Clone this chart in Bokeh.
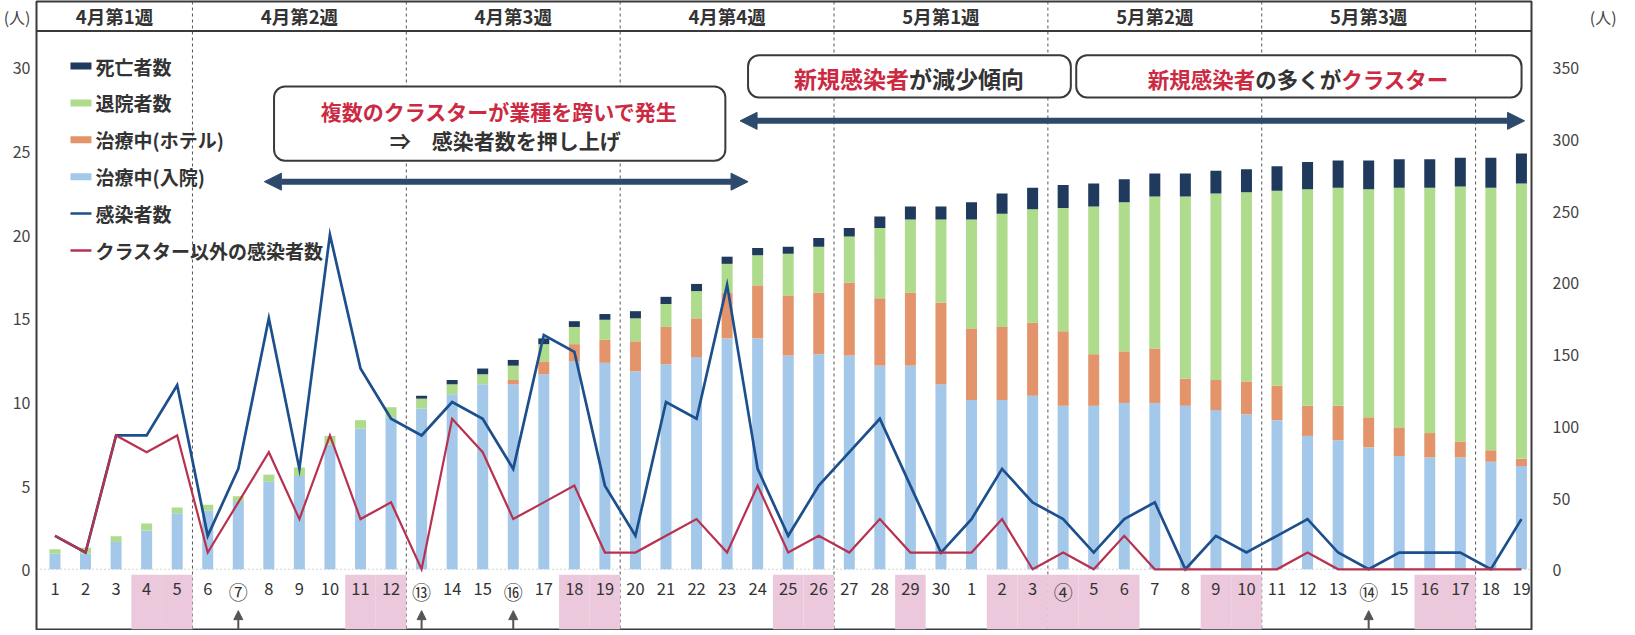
from bokeh.plotting import figure
from bokeh.models import (Range1d, LinearAxis, FixedTicker, Span, BoxAnnotation,
                          Arrow, NormalHead, Label, ColumnDataSource)
from bokeh.core.properties import value
from bokeh.embed import file_html
from bokeh.resources import INLINE

FONT = "Noto Sans CJK JP"

# ---------------- data ----------------
day_labels = ["1", "2", "3", "4", "5", "6", "⑦", "8", "9", "10",
              "11", "12", "⑬", "14", "15", "⑯", "17", "18", "19", "20",
              "21", "22", "23", "24", "25", "26", "27", "28", "29", "30",
              "1", "2", "3", "④", "5", "6", "7", "8", "9", "10",
              "11", "12", "13", "⑭", "15", "16", "17", "18", "19"]

# 治療中(入院)
hospital = [11, 11, 19, 27, 39, 41, 47, 61, 65, 87,
            98, 106, 112, 122, 129, 129, 136, 145, 144, 138,
            143, 148, 161, 161, 149, 150, 149, 142, 142, 129,
            118, 118, 121, 114, 114, 116, 116, 114, 111, 108,
            104, 93, 90, 85, 79, 78, 78, 75, 72]
# 治療中(ホテル)
hotel = [0, 0, 0, 0, 0, 0, 0, 0, 0, 0,
         0, 0, 0, 0, 0, 3, 9, 12, 16, 21,
         26, 27, 32, 37, 42, 43, 51, 47, 51, 57,
         50, 51, 51, 52, 36, 36, 38, 19, 21, 23,
         24, 21, 24, 21, 20, 17, 11, 8, 5]
# 退院者数
discharged = [3, 4, 4, 5, 4, 4, 4, 5, 6, 6,
              6, 7, 7, 7, 7, 10, 12, 12, 14, 16,
              16, 19, 20, 21, 29, 32, 32, 49, 51, 58,
              76, 79, 79, 86, 103, 104, 106, 127, 130, 132,
              136, 151, 152, 159, 167, 171, 178, 183, 192]
# 死亡者数
deaths = [0, 0, 0, 0, 0, 0, 0, 0, 0, 0,
          0, 0, 2, 3, 4, 4, 4, 4, 4, 5,
          5, 5, 5, 5, 5, 6, 6, 8, 9, 9,
          12, 14, 15, 16, 16, 16, 16, 16, 16, 16,
          17, 19, 19, 20, 20, 20, 20, 21, 21]
# 感染者数
infected = [2, 1, 8, 8, 11, 2, 6, 15, 6, 20,
            12, 9, 8, 10, 9, 6, 14, 13, 5, 2,
            10, 9, 17, 6, 2, 5, 7, 9, 5, 1,
            3, 6, 4, 3, 1, 3, 4, 0, 2, 1,
            2, 3, 1, 0, 1, 1, 1, 0, 3]
# クラスター以外の感染者数
non_cluster = [2, 1, 8, 7, 8, 1, 4, 7, 3, 8,
               3, 4, 0, 9, 7, 3, 4, 5, 1, 1,
               2, 3, 1, 5, 1, 2, 1, 3, 1, 1,
               1, 3, 0, 1, 0, 2, 0, 0, 0, 0,
               0, 1, 0, 0, 0, 0, 0, 0, 0]

holiday_pos = [4, 5, 11, 12, 18, 19, 25, 26, 29, 32, 33, 34, 35, 36, 39, 40, 46, 47]
arrow_pos = [7, 13, 16, 44]
week_labels = ["4月第1週", "4月第2週", "4月第3週", "4月第4週", "5月第1週", "5月第2週", "5月第3週"]
week_breaks = [5.5, 12.5, 19.5, 26.5, 33.5, 40.5, 47.5]
left_ticks = [0, 5, 10, 15, 20, 25, 30]
right_ticks = [0, 50, 100, 150, 200, 250, 300, 350]
unit_label = "(人)"

legend_labels = ["死亡者数", "退院者数", "治療中(ホテル)", "治療中(入院)", "感染者数", "クラスター以外の感染者数"]

# ---------------- style ----------------
C_HOSP = "#a3c8ea"
C_HOTEL = "#e4946a"
C_DISCH = "#afdb8c"
C_DEATH = "#1f3a5c"
C_BLUE = "#1d4f8c"
C_RED = "#b8324f"
C_PINK = "#ebc8db"
C_TXTRED = "#cc2a42"
C_TXT = "#333333"
C_FRAME = "#3a3a3a"
C_ARROW = "#2d4a6d"

RATIO = 350 / 30


def px(x):  # reference pixel -> x data
    return 1 + (x - 62.5) / 30.57


def py(y):  # reference pixel -> left-axis data
    return (571.5 - y) / 16.78


Y0, Y1 = -3.6, 33.94
X0, X1 = 0.395, 49.33
UNIT_Y = 33  # where the (人) unit sits on the left scale

p = figure(width=1619, height=630, x_range=Range1d(X0, X1), y_range=Range1d(Y0, Y1),
           output_backend="svg", toolbar_location=None, title=None,
           x_axis_location=None, min_border_left=35, min_border_right=87,
           min_border_top=1, min_border_bottom=1)
p.extra_y_ranges = {"right": Range1d(Y0 * RATIO, Y1 * RATIO)}
p.grid.visible = False
p.outline_line_color = C_FRAME
p.outline_line_width = 2
p.background_fill_color = "white"
p.border_fill_color = "white"


def style_axis(a, standoff):
    a.axis_line_color = None
    a.major_tick_line_color = None
    a.minor_tick_line_color = None
    a.major_tick_out = 0
    a.major_tick_in = 0
    a.minor_tick_out = 0
    a.minor_tick_in = 0
    a.major_label_text_font = FONT
    a.major_label_text_font_size = "16px"
    a.major_label_text_color = "#444444"
    a.major_label_standoff = standoff


ax = p.yaxis[0]
ax.ticker = FixedTicker(ticks=left_ticks + [UNIT_Y])
ax.major_label_overrides = {UNIT_Y: unit_label}
style_axis(ax, 6)

r_unit = int(round(UNIT_Y * RATIO))
rax = LinearAxis(y_range_name="right", ticker=FixedTicker(ticks=right_ticks + [r_unit]))
rax.major_label_overrides = {r_unit: "\u3000\u3000\u2004" + unit_label}
style_axis(rax, 21)
p.add_layout(rax, "right")

x = list(range(1, len(day_labels) + 1))

# holiday cells
p.quad(left=[h - 0.5 for h in holiday_pos], right=[h + 0.5 for h in holiday_pos],
       top=[py(577)] * len(holiday_pos), bottom=[Y0] * len(holiday_pos),
       fill_color=C_PINK, line_color=None)

# week dividers, zero line, header line
for b in week_breaks:
    p.add_layout(Span(location=b, dimension="height", line_color="#555555",
                      line_dash="3 3", line_width=1, level="underlay"))
p.add_layout(Span(location=0, dimension="width", line_color="#aaaaaa",
                  line_dash="1 3", line_width=1, level="underlay"))
p.add_layout(Span(location=py(31.7), dimension="width", line_color=C_FRAME, line_width=2))

# stacked bars
src = ColumnDataSource(dict(x=x, hosp=hospital, hotel=hotel, disch=discharged, death=deaths))
p.vbar_stack(["hosp", "hotel", "disch", "death"], x="x", width=0.36,
             color=[C_HOSP, C_HOTEL, C_DISCH, C_DEATH], line_color=None,
             source=src, y_range_name="right")

# lines
p.line(x, infected, line_color=C_BLUE, line_width=2.7, line_join="miter")
p.line(x, non_cluster, line_color=C_RED, line_width=2.2, line_join="miter")

# category labels
lab_y = py(591)
norm_x = [xi for xi, l in zip(x, day_labels) if ord(l[0]) < 0x2460]
norm_t = [l for l in day_labels if ord(l[0]) < 0x2460]
circ_x = [xi for xi, l in zip(x, day_labels) if ord(l[0]) >= 0x2460]
circ_t = [l for l in day_labels if ord(l[0]) >= 0x2460]
p.text(x=norm_x, y=[lab_y] * len(norm_x), text=norm_t, text_align="center",
       text_baseline="middle", text_font=value(FONT), text_font_size="16.5px",
       text_color=C_TXT)
p.text(x=circ_x, y=[lab_y - 0.15] * len(circ_x), text=circ_t, text_align="center",
       text_baseline="middle", text_font=value(FONT), text_font_size="19px",
       text_color=C_TXT)

# small arrows at bottom
asrc = ColumnDataSource(dict(x=arrow_pos, y0=[Y0] * len(arrow_pos), y1=[py(613)] * len(arrow_pos)))
p.add_layout(Arrow(source=asrc, x_start="x", y_start="y0", x_end="x", y_end="y1",
                   line_color="#555555", line_width=2,
                   end=NormalHead(size=9, fill_color="#555555", line_color="#555555")))

# week header texts
bounds = [X0] + week_breaks
for i, wl in enumerate(week_labels):
    cx = (bounds[i] + bounds[i + 1]) / 2
    p.add_layout(Label(x=cx, y=py(17), text=wl, text_align="center", text_baseline="middle",
                       text_font=FONT, text_font_style="bold", text_font_size="18.5px",
                       text_color=C_TXT))

# legend (manual)
leg_y0, leg_dy = 66.7, 37.0
sw_l, sw_r, tx_l = px(78), px(99), px(103)
bar_cols = [C_DEATH, C_DISCH, C_HOTEL, C_HOSP]
for i, lbl in enumerate(legend_labels):
    yy = leg_y0 + i * leg_dy
    if i < 4:
        p.quad(left=[sw_l], right=[sw_r], top=[py(yy - 3.5)], bottom=[py(yy + 3.5)],
               fill_color=bar_cols[i], line_color=None)
    else:
        p.segment(x0=[sw_l], x1=[sw_r], y0=[py(yy)], y1=[py(yy)],
                  line_color=C_BLUE if i == 4 else C_RED, line_width=2.5)
    p.add_layout(Label(x=tx_l, y=py(yy), text=lbl, text_align="left", text_baseline="middle",
                       text_font=FONT, text_font_style="bold", text_font_size="19px",
                       text_color=C_TXT))

# annotation boxes
for (l, r, t, b) in [(281.7, 733.3, 87.3, 161.7), (756, 1079, 56, 98.3), (1084.4, 1530, 56, 98.3)]:
    p.add_layout(BoxAnnotation(left=px(l), right=px(r), top=py(t), bottom=py(b),
                               border_radius=11, fill_color="white", fill_alpha=1.0,
                               line_color=C_FRAME, line_width=2, line_alpha=1.0))

p.add_layout(Label(x=px(507), y=py(111.7), text="複数のクラスターが業種を跨いで発生",
                   text_align="center", text_baseline="middle", text_font=FONT,
                   text_font_style="bold", text_font_size="21px", text_color=C_TXTRED))
p.add_layout(Label(x=px(513), y=py(141), text="⇒\u3000感染者数を押し上げ",
                   text_align="center", text_baseline="middle", text_font=FONT,
                   text_font_style="bold", text_font_size="21px", text_color=C_TXT))

p.add_layout(Label(x=px(917), y=py(79), text="新規感染者", text_align="right",
                   text_baseline="middle", text_font=FONT, text_font_style="bold",
                   text_font_size="23px", text_color=C_TXTRED))
p.add_layout(Label(x=px(917), y=py(79), text="が減少傾向", text_align="left",
                   text_baseline="middle", text_font=FONT, text_font_style="bold",
                   text_font_size="23px", text_color=C_TXT))

x_start = 1156
for txt, col in [("新規感染者", C_TXTRED), ("の多くが", C_TXT), ("クラスター", C_TXTRED)]:
    p.add_layout(Label(x=px(x_start), y=py(79), text=txt, text_align="left",
                       text_baseline="middle", text_font=FONT, text_font_style="bold",
                       text_font_size="21.5px", text_color=col))
    x_start += 21.5 * len(txt)

# big double-headed arrows
for (xa, xb, ya) in [(272, 756, 182.7), (748, 1533, 121.7)]:
    p.add_layout(Arrow(x_start=px(xa), y_start=py(ya), x_end=px(xb), y_end=py(ya),
                       line_color=C_ARROW, line_width=6,
                       start=NormalHead(size=17, fill_color=C_ARROW, line_color=C_ARROW),
                       end=NormalHead(size=17, fill_color=C_ARROW, line_color=C_ARROW)))

open("out.html", "w").write(file_html(p, INLINE))
